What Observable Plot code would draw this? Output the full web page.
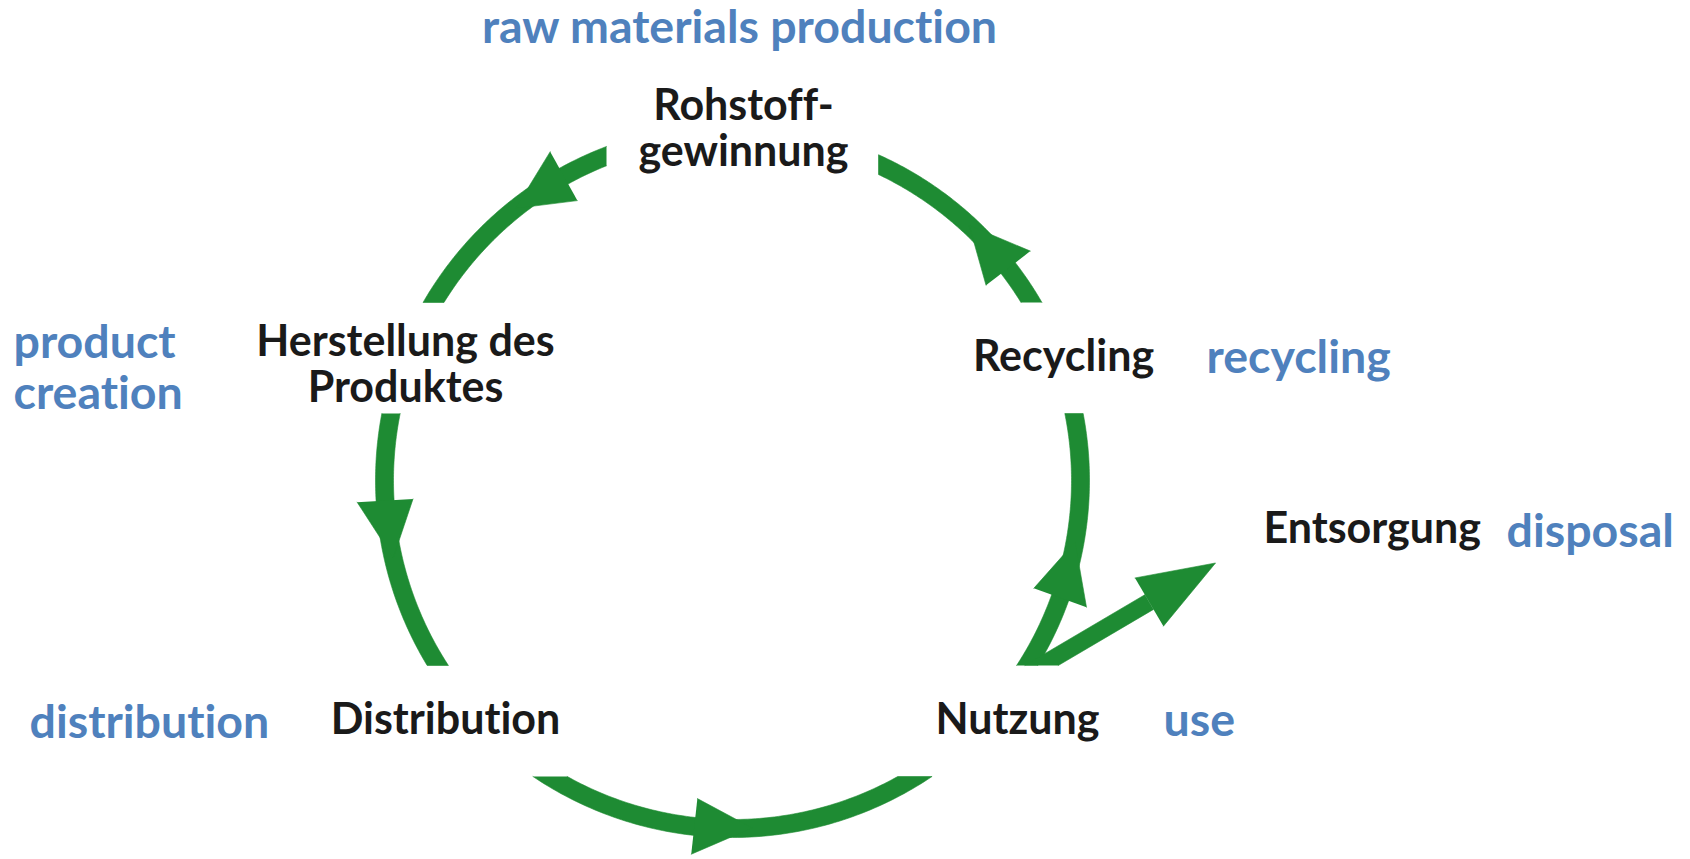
<!DOCTYPE html>
<html>
<head>
<meta charset="utf-8">
<script src="https://cdn.jsdelivr.net/npm/d3@7"></script>
<script src="https://cdn.jsdelivr.net/npm/@observablehq/plot@0.6"></script>
<style>
  html, body { margin: 0; padding: 0; background: #ffffff; }
  #chart svg { display: block; }
</style>
</head>
<body>
<div id="chart"></div>
<script>
// ---------- content ----------
// stages of the product life cycle (German) and their English glosses
const stagesDE = ["Rohstoff-\ngewinnung", "Herstellung des\nProduktes", "Distribution", "Nutzung", "Recycling", "Entsorgung"];
const stagesEN = ["raw materials production", "product\ncreation", "distribution", "use", "recycling", "disposal"];

// ---------- layout (label anchor = baseline of last line) ----------
const deX = [743, 405, 445, 1017, 1063, 1263];
const deY = [165, 401, 733, 733, 370, 542];
const deAnchor = ["middle", "middle", "middle", "middle", "middle", "start"];
const enX = [739, 13, 29, 1163, 1206, 1506];
const enY = [42, 408, 737, 735, 372, 546];
const enAnchor = ["middle", "start", "start", "start", "start", "start"];

// ring geometry
const ring = {cx: 732, cy: 480, r: 348, w: 18};
// ring segments between the stage labels: approx. start / end angle (deg, screen) and cut line at each end
const arcStart = [-111, 191, 122, 32, -31];
const arcEnd = [-149, 148, 58, -11, -65];
const arcStartCut = [["x", 606], ["y", 413], ["y", 776], ["y", 665], ["y", 302]];
const arcEndCut = [["y", 302], ["y", 665], ["y", 776], ["y", 413], ["x", 878]];
// arrowheads on the ring (base angle, deg), all pointing counter-clockwise
const headBase = [-119, 176.7, 96.3, 19.7, -37.6];
const head = {len: 58, w: 56};
// disposal arrow leaving the ring at "Nutzung"
const disposal = {x: 1041, y: 665, angle: -30.5, shaft: 125, shaftW: 17, len: 77, w: 56};

const green = "#1e8b33";
const blue = "#4f81bd";
const black = "#1a1a1a";

// ---------- geometry helpers ----------
const rad = Math.PI / 180;
function cutAngle(cut, rho, approx) {
  const [axis, v] = cut;
  let cands;
  if (axis === "y") {
    const a = Math.asin(Math.max(-1, Math.min(1, (v - ring.cy) / rho))) / rad;
    cands = [a, 180 - a, a + 360, a - 360, 180 - a - 360];
  } else {
    const a = Math.acos(Math.max(-1, Math.min(1, (v - ring.cx) / rho))) / rad;
    cands = [a, -a, a + 360, -a + 360, a - 360];
  }
  return cands.reduce((b, t) => Math.abs(t - approx) < Math.abs(b - approx) ? t : b);
}
const pt = (rho, deg) => [ring.cx + rho * Math.cos(deg * rad), ring.cy + rho * Math.sin(deg * rad)];

const shapes = [];
const ro = ring.r + ring.w / 2, ri = ring.r - ring.w / 2;
arcStart.forEach((a0, i) => {
  const a1 = arcEnd[i];
  const o0 = cutAngle(arcStartCut[i], ro, a0), o1 = cutAngle(arcEndCut[i], ro, a1);
  const i0 = cutAngle(arcStartCut[i], ri, a0), i1 = cutAngle(arcEndCut[i], ri, a1);
  const n = 90;
  for (let k = 0; k <= n; k++) {
    const [x, y] = pt(ro, o0 + (o1 - o0) * k / n);
    shapes.push({id: "arc" + i, x, y});
  }
  for (let k = 0; k <= n; k++) {
    const [x, y] = pt(ri, i1 + (i0 - i1) * k / n);
    shapes.push({id: "arc" + i, x, y});
  }
});
headBase.forEach((b, i) => {
  const apex = b - head.len / ring.r / rad;
  const c1 = pt(ring.r + head.w / 2, b), c2 = pt(ring.r - head.w / 2, b), tip = pt(ring.r, apex);
  [c1, tip, c2].forEach(([x, y]) => shapes.push({id: "head" + i, x, y}));
});
{
  const d = [Math.cos(disposal.angle * rad), Math.sin(disposal.angle * rad)];
  const nrm = [-d[1], d[0]];
  const h = disposal.shaftW / 2;
  const B = [disposal.x + disposal.shaft * d[0], disposal.y + disposal.shaft * d[1]];
  // shaft: edges start on the horizontal cut line y = disposal.y
  const edgeStart = s => {
    const p = [disposal.x + s * h * nrm[0], disposal.y + s * h * nrm[1]];
    const t = (disposal.y - p[1]) / d[1];
    return [p[0] + t * d[0], p[1] + t * d[1]];
  };
  const e1 = edgeStart(1), e2 = edgeStart(-1);
  const b1 = [B[0] + h * nrm[0], B[1] + h * nrm[1]], b2 = [B[0] - h * nrm[0], B[1] - h * nrm[1]];
  [e1, b1, b2, e2].forEach(([x, y]) => shapes.push({id: "dshaft", x, y}));
  const tip = [B[0] + disposal.len * d[0], B[1] + disposal.len * d[1]];
  const c1 = [B[0] + disposal.w / 2 * nrm[0], B[1] + disposal.w / 2 * nrm[1]];
  const c2 = [B[0] - disposal.w / 2 * nrm[0], B[1] - disposal.w / 2 * nrm[1]];
  [c1, tip, c2].forEach(([x, y]) => shapes.push({id: "dhead", x, y}));
}

const de = stagesDE.map((t, i) => ({text: t, x: deX[i], y: deY[i], anchor: deAnchor[i]}));
const en = stagesEN.map((t, i) => ({text: t, x: enX[i], y: enY[i], anchor: enAnchor[i]}));

const deFont = {fontFamily: "Lato, 'Open Sans', sans-serif", fontSize: 43, fontWeight: 700, fill: black, lineAnchor: "bottom", lineHeight: 1.06};
const enFont = {fontFamily: "Lato, 'Open Sans', sans-serif", fontSize: 46.5, fontWeight: 700, fill: blue, lineAnchor: "bottom", lineHeight: 1.08};

const chart = Plot.plot({
  width: 1690,
  height: 859,
  margin: 0,
  style: {background: "#ffffff", fontVariantLigatures: "none"},
  x: {domain: [0, 1690], range: [0, 1690], axis: null},
  y: {domain: [0, 859], range: [0, 859], axis: null},
  marks: [
    Plot.line(shapes, {x: "x", y: "y", z: "id", curve: "linear", fill: green, stroke: green, strokeWidth: 0.6}),
    Plot.text(de.filter(d => d.anchor === "middle"), {x: "x", y: "y", text: "text", textAnchor: "middle", ...deFont}),
    Plot.text(de.filter(d => d.anchor === "start"), {x: "x", y: "y", text: "text", textAnchor: "start", ...deFont}),
    Plot.text(en.filter(d => d.anchor === "middle"), {x: "x", y: "y", text: "text", textAnchor: "middle", ...enFont}),
    Plot.text(en.filter(d => d.anchor === "start"), {x: "x", y: "y", text: "text", textAnchor: "start", ...enFont})
  ]
});
document.getElementById("chart").appendChild(chart);
</script>
</body>
</html>
